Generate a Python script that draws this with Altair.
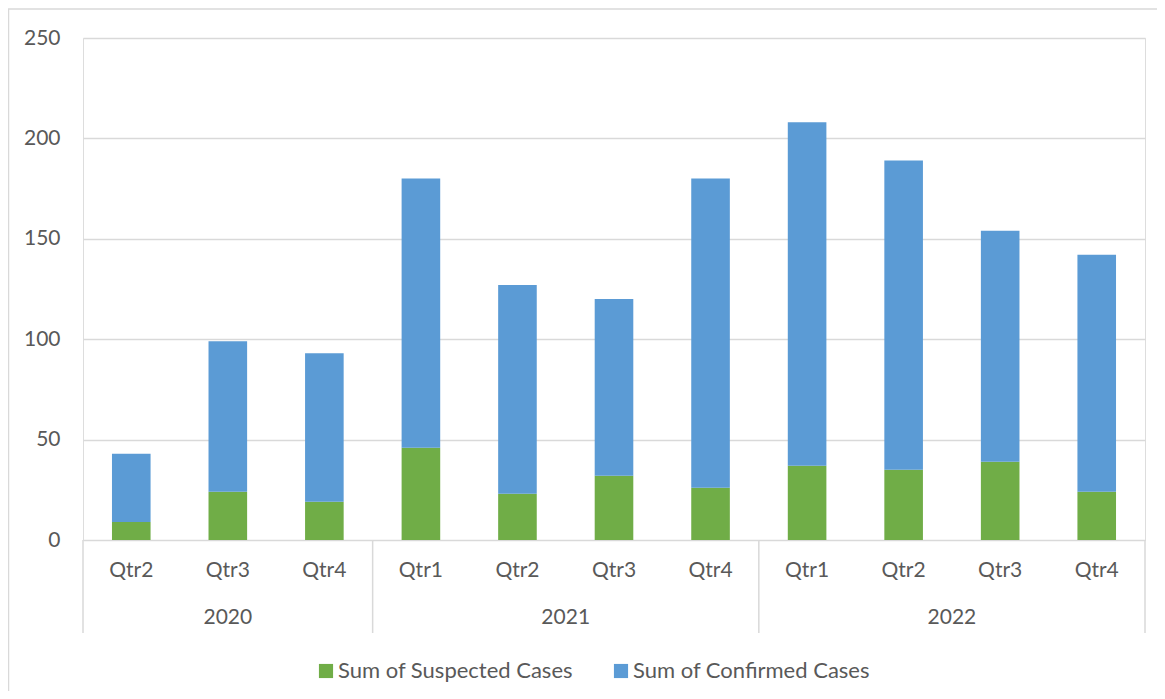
import altair as alt
import pandas as pd

# ---- data ----
years = ["2020", "2020", "2020", "2021", "2021", "2021", "2021", "2022", "2022", "2022", "2022"]
quarters = ["Qtr2", "Qtr3", "Qtr4", "Qtr1", "Qtr2", "Qtr3", "Qtr4", "Qtr1", "Qtr2", "Qtr3", "Qtr4"]
suspected = [9, 24, 19, 46, 23, 32, 26, 37, 35, 39, 24]
confirmed = [34, 75, 74, 134, 104, 88, 154, 171, 154, 115, 118]
series_names = ["Sum of Suspected Cases", "Sum of Confirmed Cases"]
series_colors = ["#70AD47", "#5B9BD5"]
y_ticks = [0, 50, 100, 150, 200, 250]

FONT = "Lato"
TXT = "#595959"
GRID = "#D9D9D9"
W, H = 1062, 502

# ---- tables built from the arrays ----
rows = []
for i, (yr, q) in enumerate(zip(years, quarters)):
    rows.append({"idx": i, "year": yr, "quarter": q, "series": series_names[0],
                 "value": suspected[i], "ord": 0})
    rows.append({"idx": i, "year": yr, "quarter": q, "series": series_names[1],
                 "value": confirmed[i], "ord": 1})
df = pd.DataFrame(rows)

cat_df = pd.DataFrame({"idx": list(range(len(quarters))), "quarter": quarters, "year": years})
grp = cat_df.groupby("year", sort=False)["idx"].agg(["min", "max"]).reset_index()
grp["mid"] = (grp["min"] + grp["max"]) / 2
year_df = grp[["year", "mid"]]
bounds = [m - 0.5 for m in grp["min"]] + [grp["max"].iloc[-1] + 0.5]
sep_df = pd.DataFrame({"b": bounds})

xscale = alt.Scale(domain=[-0.5, len(quarters) - 0.5], nice=False, zero=False, padding=0)

frame = alt.Chart(alt.Data(values=[{"a": 1}])).mark_rect(
    fill=None, stroke=GRID, strokeWidth=1.5
).encode(
    x=alt.value(-74.5), x2=alt.value(W + 200),
    y=alt.value(-29), y2=alt.value(H + 300)
)

bars = alt.Chart(df).mark_bar(size=38.6).encode(
    x=alt.X("idx:Q", scale=xscale, axis=None),
    y=alt.Y("value:Q", stack="zero",
            scale=alt.Scale(domain=[0, 250], nice=False),
            axis=alt.Axis(values=y_ticks, title=None, domain=False, ticks=False,
                          grid=True, gridColor=GRID, gridWidth=1.3,
                          labelFont=FONT, labelFontSize=21, labelColor=TXT,
                          labelPadding=23)),
    color=alt.Color("series:N",
                    scale=alt.Scale(domain=series_names, range=series_colors),
                    legend=alt.Legend(title=None, orient="none", legendX=232, legendY=622,
                                      direction="horizontal", symbolType="square",
                                      symbolSize=200, symbolStrokeWidth=0,
                                      labelFont=FONT, labelFontSize=22, labelColor=TXT,
                                      labelLimit=400, labelOffset=1, columnPadding=37)),
    order=alt.Order("ord:Q"),
)

seps = alt.Chart(sep_df).mark_rule(color=GRID, strokeWidth=1.5).encode(
    x=alt.X("b:Q", scale=xscale),
    y=alt.value(H), y2=alt.value(H + 93)
)

qlabels = alt.Chart(cat_df).mark_text(
    font=FONT, fontSize=21, color=TXT, baseline="middle", align="center"
).encode(
    x=alt.X("idx:Q", scale=xscale),
    y=alt.value(H + 31),
    text="quarter:N"
)

ylabels = alt.Chart(year_df).mark_text(
    font=FONT, fontSize=21, color=TXT, baseline="middle", align="center"
).encode(
    x=alt.X("mid:Q", scale=xscale),
    y=alt.value(H + 78),
    text="year:N"
)

chart = alt.layer(frame, bars, seps, qlabels, ylabels).properties(
    width=W, height=H,
    autosize=alt.AutoSizeParams(type="none"),
    padding={"left": 75, "top": 30, "right": 12, "bottom": 151},
    background="white",
).configure_view(stroke=None).configure(font=FONT)

chart.save("out.html", embed_options={"renderer": "svg", "actions": False})
